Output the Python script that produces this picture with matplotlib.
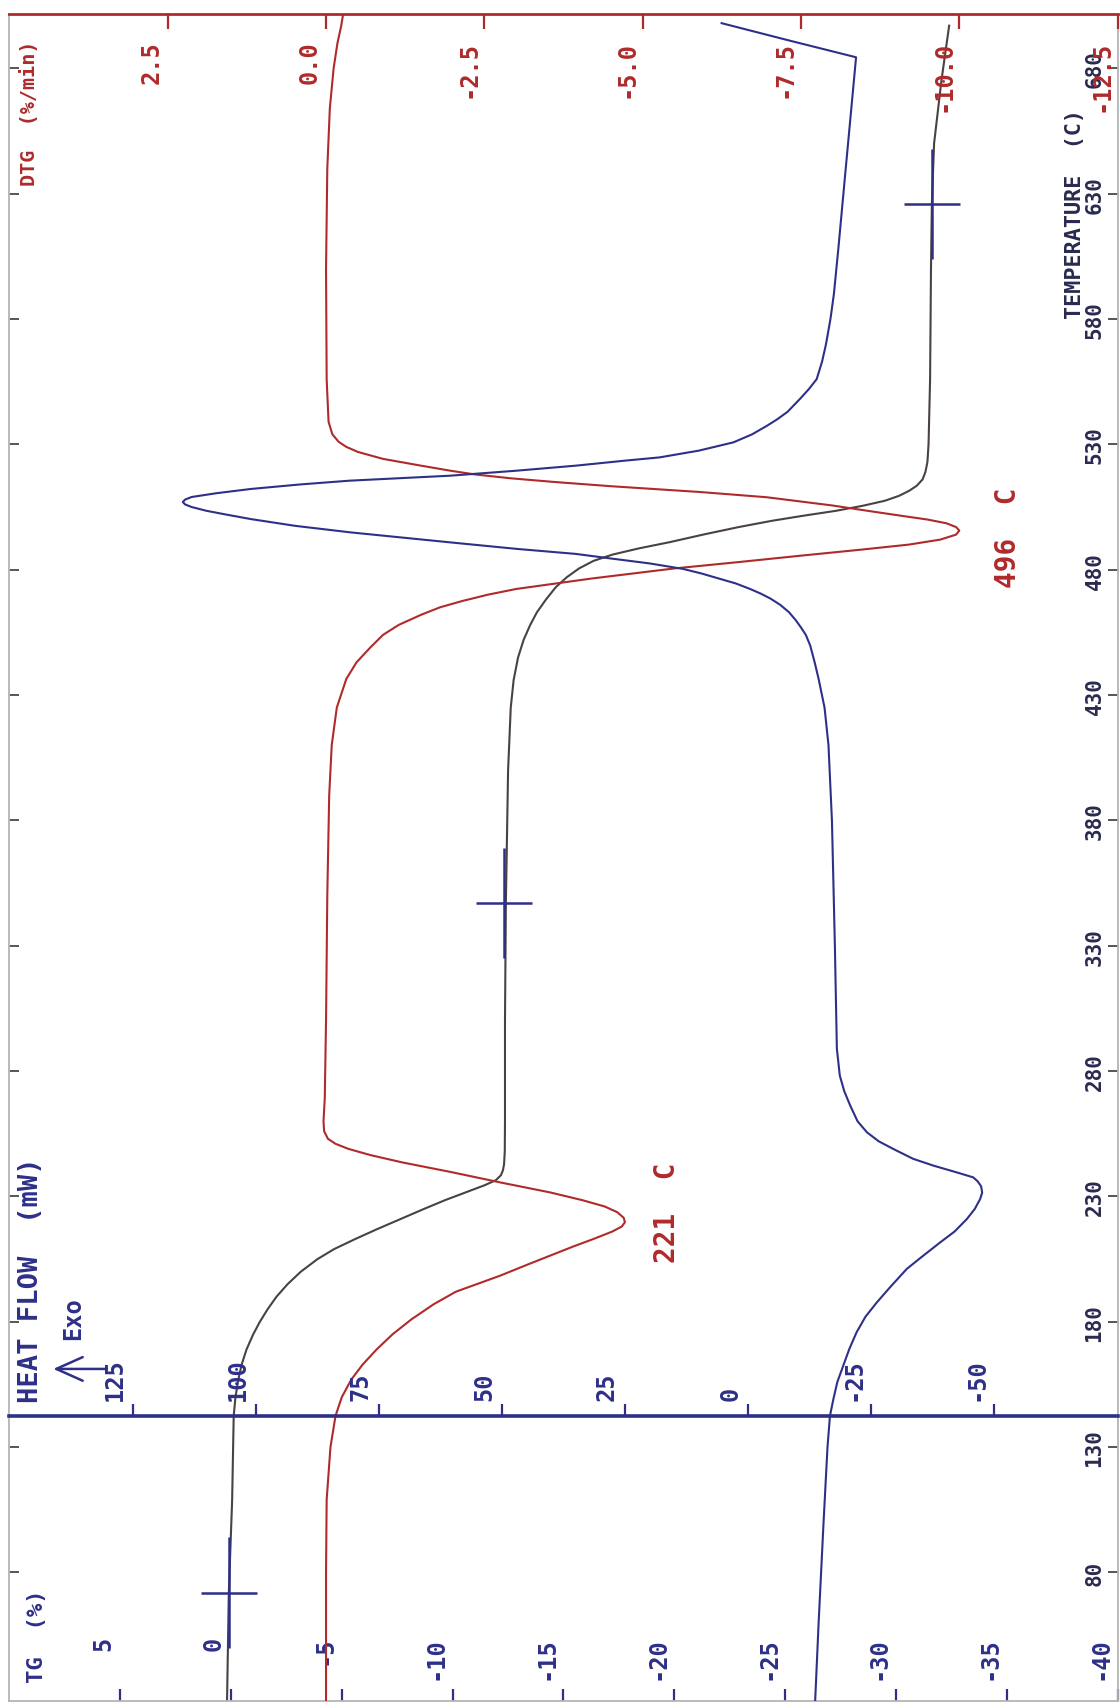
import matplotlib
matplotlib.use('Agg')
import matplotlib.pyplot as plt
from matplotlib.transforms import offset_copy, blended_transform_factory as blend

plt.rcParams['font.family'] = ['DejaVu Sans Mono', 'DejaVu Sans']
plt.rcParams['font.weight'] = 'bold'

# ---------------- data ----------------
T_TG = [29, 72, 109, 142.5, 150, 157, 163, 169, 175, 180, 185, 190, 195, 200, 205, 209,
        213, 217, 221, 225, 228.5, 232, 234.5, 236.5, 238.5, 240.5, 243, 248, 260, 300,
        347, 400, 425, 436, 445, 452, 458, 463, 468, 473, 477, 480.5, 483.5, 486, 488.5,
        491, 494, 497, 499.5, 501.5, 503.5, 505.5, 507.5, 509.5, 511.5, 513.5, 516, 519,
        523, 530, 556, 600, 626, 650, 675, 697]
TG = [0.18, 0.10, -0.05, -0.12, -0.2, -0.33, -0.48, -0.7, -1.0, -1.3, -1.65, -2.05, -2.55,
      -3.15, -3.9, -4.65, -5.6, -6.6, -7.65, -8.7, -9.65, -10.7, -11.45, -11.95, -12.18,
      -12.27, -12.32, -12.35, -12.36, -12.36, -12.4, -12.5, -12.62, -12.75, -12.95, -13.2,
      -13.5, -13.8, -14.2, -14.65, -15.15, -15.7, -16.35, -17.2, -18.4, -19.8, -21.3,
      -22.9, -24.4, -25.8, -27.3, -28.5, -29.5, -30.15, -30.6, -30.94, -31.2, -31.33,
      -31.42, -31.47, -31.54, -31.58, -31.62, -31.72, -32.05, -32.4]

T_DTG = [29, 80, 109, 130, 142.5, 150, 157, 163, 169, 175, 181, 187, 192, 198.4, 203,
         206.4, 210, 213, 216, 218, 219.7, 221.5, 223.7, 226, 228.5, 231.6, 235.6, 239.6,
         243.6, 246.5, 249, 251, 253, 256, 260, 269, 300, 350, 390, 410, 425, 436.4, 443,
         449, 454, 458, 462, 465, 467.5, 470, 472.3, 476.5, 480.5, 483, 485.6, 488, 490,
         492, 494, 495.6, 497, 498.5, 500, 501.6, 503.5, 505.6, 508.9, 511, 513.3, 515,
         516.5, 518, 519.5, 521.5, 524.2, 527, 529, 531, 534, 539, 556, 600, 640, 664,
         680, 690, 697, 701.6]
DTG = [0.0, 0.0, -0.01, -0.07, -0.15, -0.25, -0.4, -0.58, -0.8, -1.05, -1.35, -1.7, -2.05,
       -2.75, -3.2, -3.54, -3.9, -4.22, -4.52, -4.67, -4.72, -4.7, -4.6, -4.4, -4.05,
       -3.54, -2.75, -2.0, -1.2, -0.7, -0.35, -0.15, -0.03, 0.03, 0.04, 0.02, 0.0, -0.02,
       -0.05, -0.09, -0.17, -0.32, -0.48, -0.7, -0.9, -1.15, -1.5, -1.8, -2.15, -2.55,
       -3.0, -4.2, -5.5, -6.5, -7.5, -8.45, -9.2, -9.7, -9.95, -10.0, -9.95, -9.8, -9.5,
       -9.06, -8.55, -8.0, -6.96, -5.9, -4.5, -3.6, -2.9, -2.35, -1.96, -1.5, -0.9, -0.5,
       -0.32, -0.2, -0.1, -0.04, -0.01, 0.0, -0.02, -0.06, -0.12, -0.18, -0.24, -0.27]

T_HF = [29, 60, 100, 130, 142.5, 149.2, 156, 162.5, 169, 175.8, 182, 187.7, 194, 201.1,
        206, 211.7, 216, 221, 225, 229, 231.5, 234, 236, 237.6, 239.5, 242.3, 245, 248.9,
        252, 255.6, 260, 266.3, 272, 278.2, 289, 330, 380, 410, 425, 436.4, 443, 449.7,
        454, 457, 460, 463, 466, 468.5, 470.5, 472.3, 474.5, 476.5, 478.5, 480.3, 482.5,
        484.5, 486.3, 488.3, 490.9, 494.9, 497.5, 500.2, 502, 503.5, 505, 506, 507, 508,
        509, 510.5, 512.2, 514, 515.5, 517.5, 519.5, 521.5, 523.5, 524.8, 527.5, 530.8,
        534, 537.4, 540, 543, 548.1, 552, 556, 563, 570, 580, 590, 608, 640, 684.4, 691,
        698]
HF = [-13.6, -14.3, -15.3, -16.1, -16.6, -17.3, -18.1, -19.3, -20.5, -22.0, -23.8, -26.1,
      -28.9, -32.2, -35.3, -39.0, -41.9, -44.4, -46.0, -47.1, -47.5, -47.3, -46.6, -45.7,
      -42.5, -37.6, -33.5, -29.5, -26.5, -24.1, -22.2, -20.7, -19.5, -18.6, -18.0, -17.6,
      -17.0, -16.3, -15.5, -14.3, -13.5, -12.6, -11.7, -10.7, -9.6, -8.3, -6.5, -4.5,
      -2.5, -0.4, 2.5, 6.0, 9.5, 13.2, 20.0, 28.0, 35.0, 47.0, 60.5, 80.8, 92.0, 101.0,
      106.0, 110.0, 113.0, 114.3, 114.8, 114.3, 113.0, 108.0, 101.0, 91.0, 81.0, 60.5,
      47.0, 35.0, 25.0, 18.0, 10.0, 3.0, -0.8, -3.8, -5.9, -8.0, -10.5, -12.3, -13.9,
      -15.0, -15.8, -16.7, -17.4, -18.3, -19.8, -21.9, -8.5, 5.4]

cross_T = [72, 347, 626]
cross_TG = [0.1, -12.3, -31.62]

tg_ticks = [5, 0, -5, -10, -15, -20, -25, -30, -35, -40]
tg_labels = ['5', '0', '-5', '-10', '-15', '-20', '-25', '-30', '-35', '-40']
dtg_ticks = [2.5, 0.0, -2.5, -5.0, -7.5, -10.0, -12.5]
dtg_labels = ['2.5', '0.0', '-2.5', '-5.0', '-7.5', '-10.0', '-12.5']
hf_ticks = [125, 100, 75, 50, 25, 0, -25, -50]
hf_labels = ['125', '100', '75', '50', '25', '0', '-25', '-50']
temp_ticks = [80, 130, 180, 230, 280, 330, 380, 430, 480, 530, 580, 630, 680]
temp_labels = [str(t) for t in temp_ticks]

peak_T = [221, 496]

# ---------------- style ----------------
NAVY = '#2e3088'
RED = '#b02a2a'
GRAY = '#4a4242'
FRAME = '#b4b4b4'
HF_AXIS_T = 142.5

W, H = 1120, 1708
fig = plt.figure(figsize=(W / 100, H / 100), dpi=100)
L, R, TOP, BOT = 9.4, 1117.6, 15, 1702
ax = fig.add_axes([L / W, (H - BOT) / H, (R - L) / W, (BOT - TOP) / H])
ax.set_xlim(10, -40)
ax.set_ylim(28.74, 701.66)
ax_dtg = ax.twiny()
ax_dtg.set_xlim(5, -12.5)
ax_hf = ax.twiny()
ax_hf.set_xlim(150, -75)

# spines
ax.spines['top'].set_visible(False)
for s in ['left', 'right', 'bottom']:
    ax.spines[s].set_color(FRAME)
    ax.spines[s].set_linewidth(1.3)
for s in ['left', 'right', 'bottom']:
    ax_dtg.spines[s].set_visible(False)
    ax_hf.spines[s].set_visible(False)
ax_dtg.spines['top'].set_color(RED)
ax_dtg.spines['top'].set_linewidth(2.0)
ax_hf.spines['top'].set_position(('data', HF_AXIS_T))
ax_hf.spines['top'].set_color(NAVY)
ax_hf.spines['top'].set_linewidth(2.6)

# ticks
ax.set_xticks(tg_ticks)
ax.tick_params(axis='x', direction='in', length=8.5, width=1.6, color=NAVY,
               bottom=True, top=False, labelbottom=False, labeltop=False)
ax.set_yticks(temp_ticks)
ax.tick_params(axis='y', direction='in', length=7, width=1.4, color='#555555',
               left=True, right=True, labelleft=False, labelright=False)
ax_dtg.set_xticks(dtg_ticks)
ax_dtg.tick_params(axis='x', direction='in', length=10.5, width=1.6, color=RED,
                   top=True, bottom=False, labeltop=False, labelbottom=False)
ax_hf.set_xticks(hf_ticks)
ax_hf.tick_params(axis='x', direction='out', length=8.5, width=1.6, color=NAVY,
                  top=True, bottom=False, labeltop=False, labelbottom=False)

# tick labels (drawn as text so they sit inside the frame like the plotter output)
tr = offset_copy(blend(ax.transData, ax.transAxes), fig=fig, x=-17, y=65, units='dots')
for v, s in zip(tg_ticks, tg_labels):
    ax.text(v, 0, s, transform=tr, rotation=90, ha='center', va='top',
            fontsize=17, color=NAVY)
tr = offset_copy(ax_hf.transData, fig=fig, x=-18, y=16, units='dots')
for v, s in zip(hf_ticks, hf_labels):
    ax_hf.text(v, HF_AXIS_T, s, transform=tr, rotation=90, ha='center', va='bottom',
               fontsize=17, color=NAVY)
tr = offset_copy(blend(ax_dtg.transData, ax.transAxes), fig=fig, x=-16, y=-26, units='dots')
for v, s in zip(dtg_ticks, dtg_labels):
    ax_dtg.text(v, 1, s, transform=tr, rotation=90, ha='center', va='top',
                fontsize=17, color=RED)
tr = offset_copy(blend(ax.transAxes, ax.transData), fig=fig, x=-23, y=0, units='dots')
for v, s in zip(temp_ticks, temp_labels):
    ax.text(1, v, s, transform=tr, rotation=90, ha='center', va='center',
            fontsize=15, color='#2a2a50')

# curves
ax.plot(TG, T_TG, color=GRAY, lw=1.5, solid_joinstyle='round')
ax_dtg.plot(DTG, T_DTG, color=RED, lw=1.5, solid_joinstyle='round')
ax_hf.plot(HF, T_HF, color=NAVY, lw=1.5, solid_joinstyle='round')

# TG markers
ax.errorbar(cross_TG, cross_T, xerr=1.26, yerr=22, fmt='none', ecolor=NAVY,
            elinewidth=1.8, capsize=0)

# axis titles
ax.text(0.025, 0.0113, 'TG  (%)', transform=ax.transAxes, rotation=90,
        ha='center', va='bottom', fontsize=16, color=NAVY)
ax.text(0.0195, 0.1772, 'HEAT FLOW  (mW)', transform=ax.transAxes, rotation=90,
        ha='center', va='bottom', fontsize=19.5, color=NAVY)
ax.text(0.018, 0.9846, 'DTG  (%/min)', transform=ax.transAxes, rotation=90,
        ha='center', va='top', fontsize=14.5, color=RED)
ax.text(0.9615, 0.9443, 'TEMPERATURE  (C)', transform=ax.transAxes, rotation=90,
        ha='center', va='top', fontsize=15.7, color='#2a2a50')

# Exo arrow
ax_hf.annotate('', xy=(141.1, 161.2), xytext=(130.2, 161.2),
               arrowprops=dict(arrowstyle='->,head_length=1.9,head_width=0.85',
                               color=NAVY, lw=1.8, shrinkA=0, shrinkB=0))
ax.text(0.0574, 0.2274, 'Exo', transform=ax.transAxes, rotation=90,
        ha='center', va='center', fontsize=17, color=NAVY)

# peak annotations
ax.text(0.5931, 0.2899, f'{peak_T[0]}  C', transform=ax.transAxes, rotation=90,
        ha='center', va='center', fontsize=20, color=RED)
ax.text(0.9011, 0.6903, f'{peak_T[1]}  C', transform=ax.transAxes, rotation=90,
        ha='center', va='center', fontsize=20, color=RED)

fig.savefig('out.png', dpi=100, facecolor='white')
